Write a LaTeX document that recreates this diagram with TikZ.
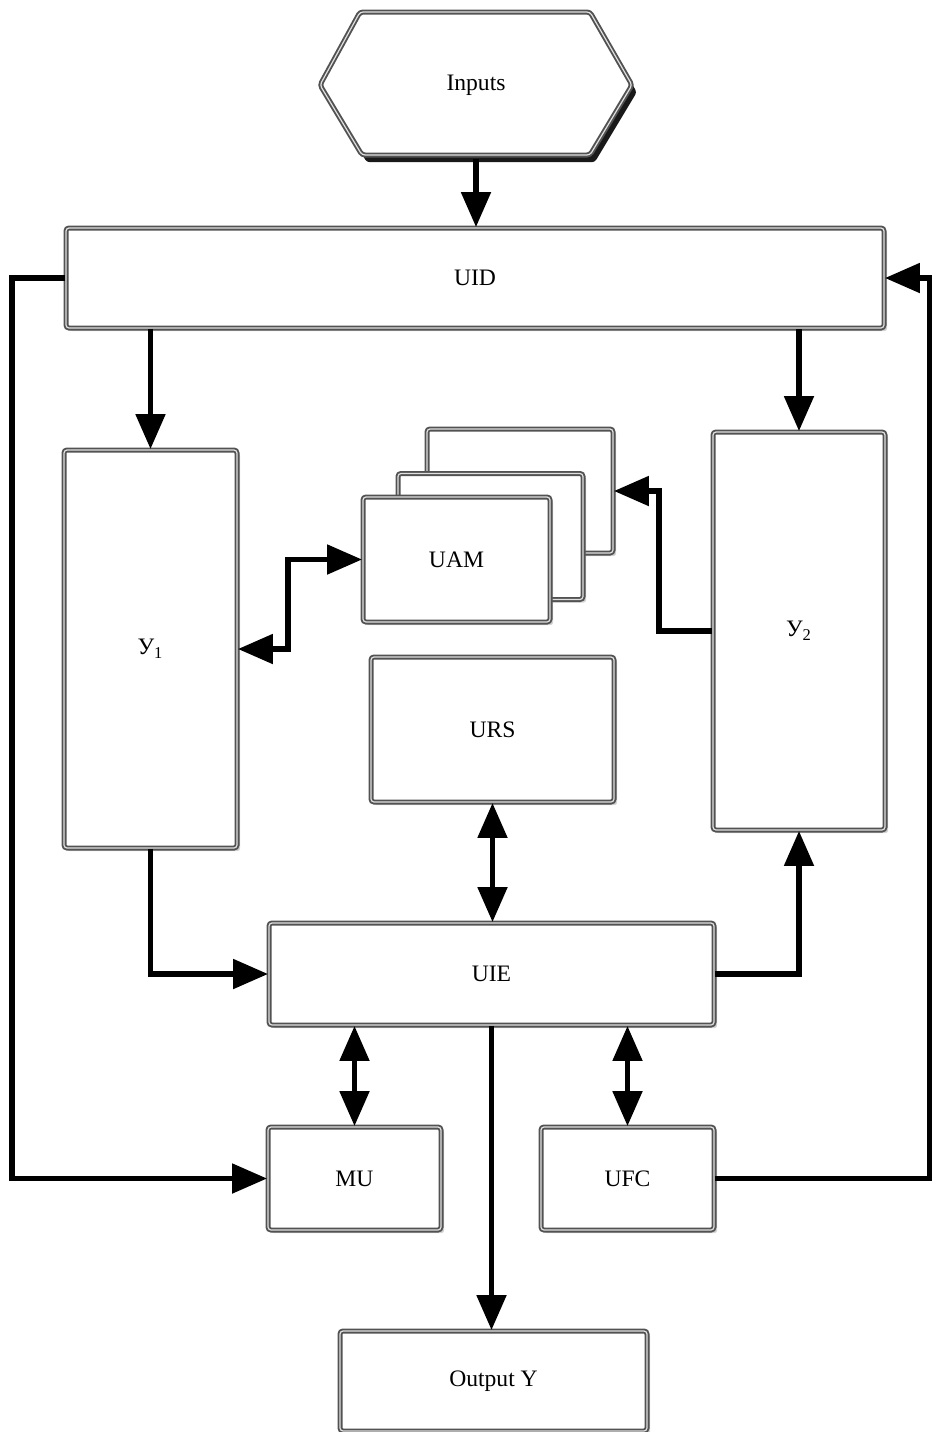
\documentclass[tikz,border=0pt]{standalone}
\usepackage{fontspec}
\setmainfont{Liberation Serif}
\usetikzlibrary{arrows.meta,shadows,positioning}

\tikzset{
  frame/.style={draw=black!68, line width=0.95pt, double=black!12, double distance=0.6pt,
    fill=white, rounded corners=1.5pt},
  block/.style={frame, inner sep=0pt,
    drop shadow={opacity=0.35, shadow xshift=1.6pt, shadow yshift=-1.6pt},
    font=\fontsize{11.8}{14}\selectfont},
  tip/.tip={Triangle[length=17.5pt,width=14.5pt]},
  link/.style={line width=2.6pt, -tip},
  dlink/.style={line width=2.6pt, tip-tip},
}

\begin{document}
\begin{tikzpicture}[x=0.5pt,y=-0.5pt]
  \useasboundingbox (0,0) rectangle (932,1432);

  % Inputs hexagon
  \draw[frame, drop shadow={fill=black, opacity=0.9, shadow xshift=2.4pt, shadow yshift=-3.6pt}]
    (360,12) -- (590,12) -- (632,85) -- (590,155) -- (362,155) -- (320,85) -- cycle;
  \node[minimum width=158pt, minimum height=74pt, inner sep=0pt,
        font=\fontsize{11.8}{14}\selectfont] (inputs) at (476,85) {Inputs};

  % Blocks
  \node[block, minimum width=409pt, minimum height=50pt] (uid) at (475,278) {UID};
  \node[block, minimum width=86.5pt, minimum height=199pt] (yone) at (150.5,649) {У\textsubscript{1}};
  \node[block, minimum width=86pt, minimum height=199pt] (ytwo) at (799,631) {У\textsubscript{2}};
  \node[block, minimum width=93pt, minimum height=62pt] (uamb) at (520,491) {};
  \node[block, minimum width=92.5pt, minimum height=63pt] (uamm) at (490.5,536.5) {};
  \node[block, minimum width=93.5pt, minimum height=62.5pt] (uamf) at (456.5,559.5) {UAM};
  \node[block, minimum width=121.5pt, minimum height=72.5pt] (urs) at (492.5,729.5) {URS};
  \node[block, minimum width=222.5pt, minimum height=51pt] (uie) at (491.5,974) {UIE};
  \node[block, minimum width=86.5pt, minimum height=51.5pt] (mu) at (354.5,1178.5) {MU};
  \node[block, minimum width=86.5pt, minimum height=51.5pt] (ufc) at (627.5,1178.5) {UFC};
  \node[block, minimum width=153.5pt, minimum height=50pt] (out) at (493.5,1381) {Output Y};

  % Bus coordinates at the edges
  \coordinate (lbus) at (12,0);
  \coordinate (rbus) at (930,0);

  % Connectors
  \draw[link] (inputs.south) -- (inputs.south |- uid.north);
  \draw[link] (uid.south -| yone) -- (yone.north);
  \draw[link] (uid.south -| ytwo) -- (ytwo.north);
  \draw[link] (uid.west) -- (uid.west -| lbus) |- (mu.west);
  \draw[link] (ufc.east) -- (ufc.east -| rbus) |- (uid.east);
  \draw[dlink] (yone.east) -- ++(50,0) |- (uamf.west);
  \draw[link] (ytwo.west) -- ++(-53,0) |- (uamb.east);
  \draw[dlink] (urs.south) -- (urs.south |- uie.north);
  \draw[link] (yone.south) |- (uie.west);
  \draw[link] (uie.east) -| (ytwo.south);
  \draw[dlink] (mu.north |- uie.south) -- (mu.north);
  \draw[dlink] (ufc.north |- uie.south) -- (ufc.north);
  \draw[link] (uie.south) -- (uie.south |- out.north);
\end{tikzpicture}
\end{document}
